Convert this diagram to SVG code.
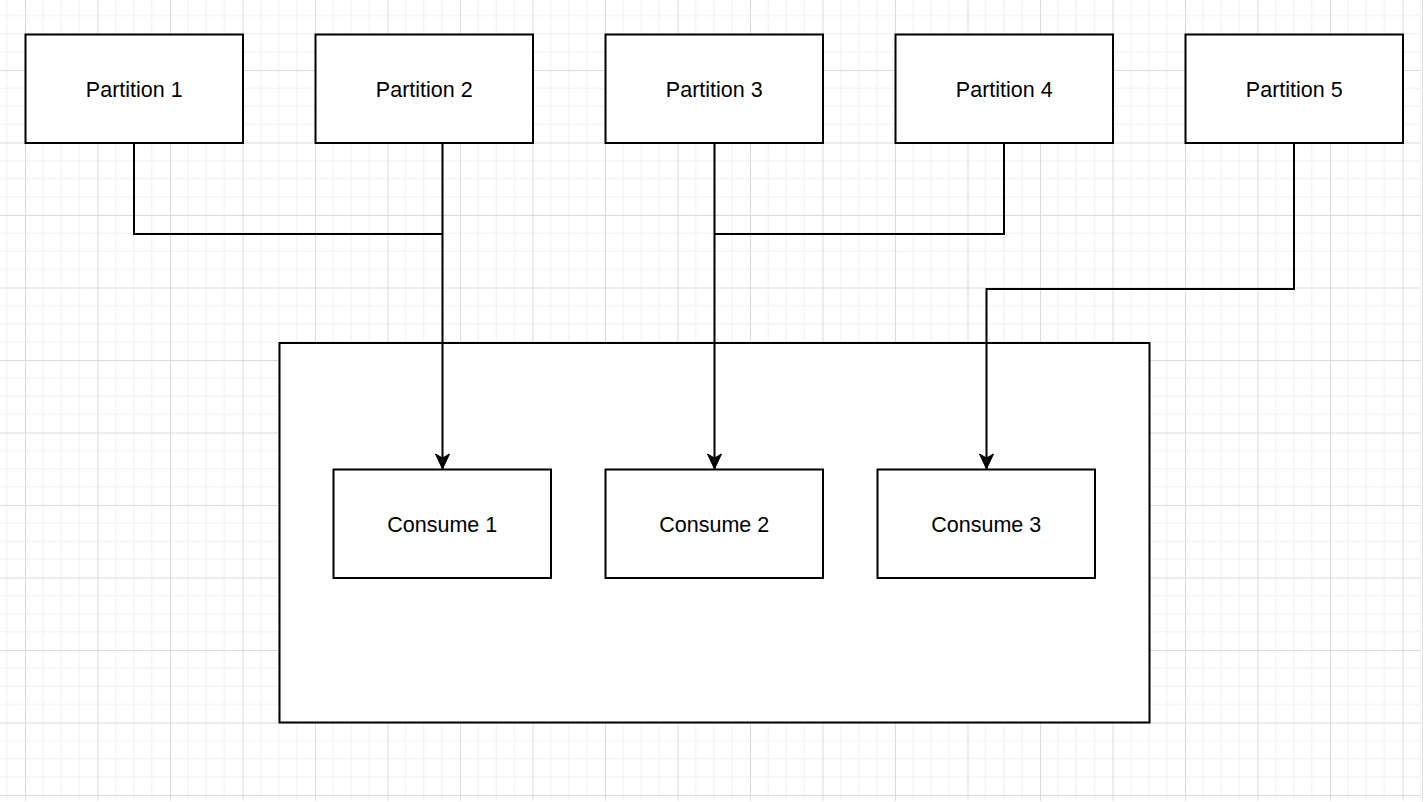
<svg xmlns="http://www.w3.org/2000/svg" width="1427" height="802" viewBox="0 0 1427 802">
<style>
.box{fill:#ffffff;stroke:#000000;stroke-width:2}
.lbl{font-family:"Liberation Sans",Arial,sans-serif;font-size:21.5px;fill:#000000;text-anchor:middle}
.edge{fill:none;stroke:#000000;stroke-width:2}
.minor{stroke:#efefef;stroke-width:1}
.major{stroke:#dadada;stroke-width:1}
</style>
<defs>
<pattern id="grid" patternUnits="userSpaceOnUse" x="25" y="-2.5" width="72.5" height="72.5">
<path class="minor" d="M18.125 0V72.5M36.25 0V72.5M54.375 0V72.5M0 18.125H72.5M0 36.25H72.5M0 54.375H72.5"/>
<path class="major" d="M0.5 0V72.5M0 0.5H72.5"/>
</pattern>
<marker id="arr" markerUnits="userSpaceOnUse" markerWidth="17" markerHeight="17" viewBox="0 0 17 17" refX="16" refY="8.5" orient="auto">
<path d="M16 8.5 L1 1.5 L5 8.5 L1 15.5 Z" fill="#000000" stroke="#000000" stroke-width="1"/>
</marker>
</defs>
<rect x="0" y="0" width="1427" height="802" fill="#ffffff"/>
<rect x="0" y="0" width="1421" height="801" fill="url(#grid)"/>
<line x1="1422.5" y1="0" x2="1422.5" y2="802" stroke="#e6e6e6" stroke-width="1"/>

<g id="container">
<rect class="box" x="279.5" y="343" width="870" height="379.5"/>
</g>

<g id="connectors">
<path class="edge" d="M134 143V234H442.5"/>
<path class="edge" d="M442.5 143V469" marker-end="url(#arr)"/>
<path class="edge" d="M1004 143V234H714.5"/>
<path class="edge" d="M714.5 143V469" marker-end="url(#arr)"/>
<path class="edge" d="M1294 143V289H986.5V469" marker-end="url(#arr)"/>
</g>

<g id="partition1"><rect class="box" x="25.5" y="34.5" width="217.5" height="108.5"/><text class="lbl" x="134.25" y="97">Partition 1</text></g>
<g id="partition2"><rect class="box" x="315.5" y="34.5" width="217.5" height="108.5"/><text class="lbl" x="424.25" y="97">Partition 2</text></g>
<g id="partition3"><rect class="box" x="605.5" y="34.5" width="217.5" height="108.5"/><text class="lbl" x="714.25" y="97">Partition 3</text></g>
<g id="partition4"><rect class="box" x="895.5" y="34.5" width="217.5" height="108.5"/><text class="lbl" x="1004.25" y="97">Partition 4</text></g>
<g id="partition5"><rect class="box" x="1185.5" y="34.5" width="217.5" height="108.5"/><text class="lbl" x="1294.25" y="97">Partition 5</text></g>

<g id="consume1"><rect class="box" x="333.5" y="469.5" width="217.5" height="108.5"/><text class="lbl" x="442.25" y="531.5">Consume 1</text></g>
<g id="consume2"><rect class="box" x="605.5" y="469.5" width="217.5" height="108.5"/><text class="lbl" x="714.25" y="531.5">Consume 2</text></g>
<g id="consume3"><rect class="box" x="877.5" y="469.5" width="217.5" height="108.5"/><text class="lbl" x="986.25" y="531.5">Consume 3</text></g>
</svg>
